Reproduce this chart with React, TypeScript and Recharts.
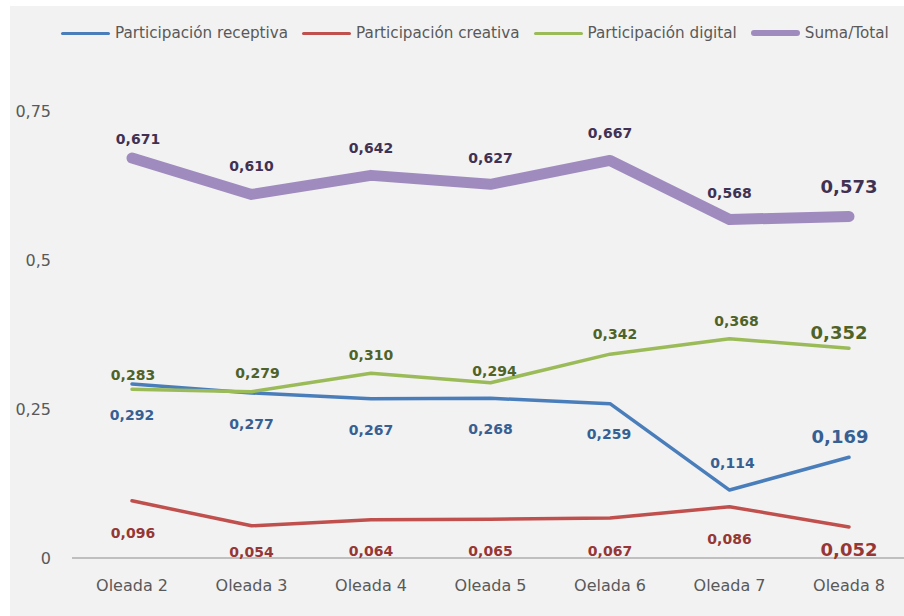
import { LineChart, Line, XAxis, YAxis, LabelList } from "recharts";

const categories = ["Oleada 2", "Oleada 3", "Oleada 4", "Oleada 5", "Oelada 6", "Oleada 7", "Oleada 8"];
const receptiva = [0.292, 0.277, 0.267, 0.268, 0.259, 0.114, 0.169];
const creativa = [0.096, 0.054, 0.064, 0.065, 0.067, 0.086, 0.052];
const digital = [0.283, 0.279, 0.31, 0.294, 0.342, 0.368, 0.352];
const total = [0.671, 0.61, 0.642, 0.627, 0.667, 0.568, 0.573];
const yTicks = [0, 0.25, 0.5, 0.75];

// label nudges in px relative to each point (layout only)
const receptivaDx = [0, 0, 0, 0, -1, 3, -9];
const receptivaDy = [31, 31, 31, 31, 30, -27, -21];
const creativaDx = [1, 0, 0, 0, 0, 0, 0];
const creativaDy = [32, 26, 31, 32, 33, 32, 22];
const digitalDx = [1, 6, 0, 4, 5, 7, -10];
const digitalDy = [-14, -19, -18, -12, -20, -18, -16];
const totalDx = [6, 0, 0, 0, 0, 0, 0];
const totalDy = [-19, -28, -27, -26, -27, -26, -30];

const series = [
  { key: "receptiva", name: "Participación receptiva", color: "#4a7ebb", text: "#376092", width: 3.5, dx: receptivaDx, dy: receptivaDy },
  { key: "creativa", name: "Participación creativa", color: "#c0504d", text: "#953735", width: 3.5, dx: creativaDx, dy: creativaDy },
  { key: "digital", name: "Participación digital", color: "#9bbb59", text: "#4f6228", width: 3.5, dx: digitalDx, dy: digitalDy },
  { key: "total", name: "Suma/Total", color: "#a08bbf", text: "#403152", width: 11, dx: totalDx, dy: totalDy },
];

const data = categories.map((c, i) => ({
  name: c,
  receptiva: receptiva[i],
  creativa: creativa[i],
  digital: digital[i],
  total: total[i],
}));

const fmt = (v: number) => String(v).replace(".", ",");
const fmt3 = (v: number) => v.toFixed(3).replace(".", ",");

const FONT = "DejaVu Sans";

const makeLabel = (s: (typeof series)[number]) => (props: any) => {
  const { x, y, value, index } = props;
  const last = index === categories.length - 1;
  return (
    <text
      x={x + s.dx[index]}
      y={y + s.dy[index]}
      textAnchor="middle"
      dominantBaseline="central"
      fill={s.text}
      fontSize={last ? 18 : 14}
      fontWeight="bold"
      fontFamily={FONT}
    >
      {fmt3(value)}
    </text>
  );
};

function ChartLegend() {
  return (
    <div
      style={{
        position: "absolute",
        top: 18,
        left: 51,
        display: "flex",
        alignItems: "center",
        fontFamily: FONT,
        fontSize: 15.2,
        color: "#595959",
        whiteSpace: "nowrap",
      }}
    >
      {series.map((s) => (
        <div key={s.key} style={{ display: "flex", alignItems: "center", marginRight: 14 }}>
          <div
            style={{
              width: 49,
              height: s.key === "total" ? 6 : 3,
              borderRadius: 3,
              background: s.color,
              marginRight: 5,
            }}
          />
          <span>{s.name}</span>
        </div>
      ))}
    </div>
  );
}

export default function App() {
  return (
    <div style={{ position: "absolute", left: 0, top: 0, width: 904, height: 616, background: "#fff", overflow: "hidden" }}>
      <div style={{ position: "absolute", left: 10, top: 6, width: 894, height: 610, background: "#f2f2f2", overflow: "hidden" }}>
        <ChartLegend />
        <LineChart width={900} height={610} data={data} margin={{ top: 105, right: 0, bottom: 28, left: 0 }}>
          <XAxis
            dataKey="name"
            axisLine={{ stroke: "#bfbfbf", strokeWidth: 2 }}
            tickLine={false}
            tickSize={0}
            tickMargin={22}
            height={30}
            padding={{ left: 60, right: 61 }}
            tick={{ fill: "#595959", fontSize: 16, fontFamily: FONT }}
          />
          <YAxis
            domain={[0, 0.75]}
            ticks={yTicks}
            width={62}
            axisLine={false}
            tickLine={false}
            tickSize={0}
            tickMargin={21}
            tickFormatter={fmt}
            tick={{ fill: "#595959", fontSize: 16, fontFamily: FONT }}
          />
          {series.map((s) => (
            <Line
              key={s.key}
              type="linear"
              dataKey={s.key}
              name={s.name}
              stroke={s.color}
              strokeWidth={s.width}
              strokeLinecap="round"
              strokeLinejoin="round"
              dot={false}
              activeDot={false}
              isAnimationActive={false}
            >
              <LabelList dataKey={s.key} content={makeLabel(s)} />
            </Line>
          ))}
        </LineChart>
      </div>
    </div>
  );
}
